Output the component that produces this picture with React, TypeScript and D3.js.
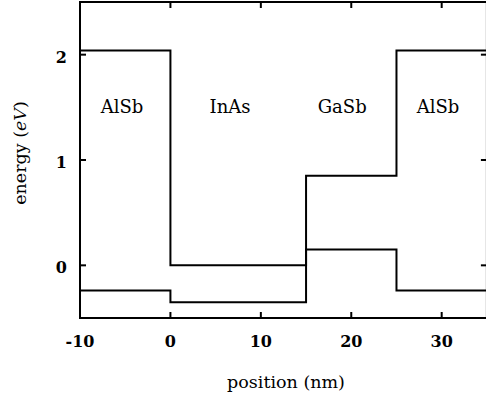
import React from 'react'
import * as d3 from 'd3'

// layer boundaries (nm) and band edges (eV)
const edges = [-10, 0, 15, 25, 35]
const conduction = [2.04, 0, 0.85, 2.04]
const valence = [-0.24, -0.35, 0.15, -0.24]

// region labels
const materials = ['AlSb', 'InAs', 'GaSb', 'AlSb']
const labelX = [-5.35, 6.6, 19.0, 29.6]
const labelY = 1.45

const xTicks = [-10, 0, 10, 20, 30]
const yTicks = [0, 1, 2]

const width = 486
const height = 403
const font = '"DejaVu Serif", serif'

export default function App() {
  var xScale = d3.scaleLinear().domain([-10, 35]).range([80, 486.9])
  var yScale = d3.scaleLinear().domain([-0.5, 2.5]).range([318, 2])

  // build step points from layers
  function steps(values: number[]) {
    var pts: [number, number][] = values.map((v, i) => [edges[i], v])
    pts.push([edges[edges.length - 1], values[values.length - 1]])
    return pts
  }

  var line = d3.line<[number, number]>()
    .x(d => xScale(d[0]))
    .y(d => yScale(d[1]))
    .curve(d3.curveStepAfter)

  var x0 = xScale.range()[0]
  var x1 = xScale.range()[1]
  var y0 = yScale.range()[0]
  var y1 = yScale.range()[1]
  var tick = 6

  return (
    <svg width={width} height={height} style={{ position: 'absolute', left: 0, top: 0, background: '#fff' }}>
      {/* frame */}
      <rect x={x0} y={y1} width={x1 - x0} height={y0 - y1} fill="none" stroke="#000" strokeWidth={2} />

      {/* x ticks, bottom and top */}
      {xTicks.map(t => (
        <g key={'x' + t}>
          <line x1={xScale(t)} x2={xScale(t)} y1={y0} y2={y0 - tick} stroke="#000" strokeWidth={2} />
          <line x1={xScale(t)} x2={xScale(t)} y1={y1} y2={y1 + tick} stroke="#000" strokeWidth={2} />
          <text x={xScale(t)} y={347} textAnchor="middle" fontFamily={font} fontSize={16} fontWeight="bold">{t}</text>
        </g>
      ))}

      {/* y ticks, left and right */}
      {yTicks.map(t => (
        <g key={'y' + t}>
          <line x1={x0} x2={x0 + tick} y1={yScale(t)} y2={yScale(t)} stroke="#000" strokeWidth={2} />
          <line x1={x1} x2={x1 - tick} y1={yScale(t)} y2={yScale(t)} stroke="#000" strokeWidth={2} />
          <text x={67} y={yScale(t) + 8} textAnchor="end" fontFamily={font} fontSize={16} fontWeight="bold">{t}</text>
        </g>
      ))}

      {/* band edges */}
      <path d={line(steps(conduction)) || ''} fill="none" stroke="#000" strokeWidth={2} />
      <path d={line(steps(valence)) || ''} fill="none" stroke="#000" strokeWidth={2} />

      {/* material names */}
      {materials.map((m, i) => (
        <text key={'m' + i} x={xScale(labelX[i])} y={yScale(labelY)} textAnchor="middle" fontFamily={font} fontSize={18}>{m}</text>
      ))}

      {/* axis titles */}
      <text x={286} y={388} textAnchor="middle" fontFamily={font} fontSize={17.5}>position (nm)</text>
      <text transform="translate(26,153) rotate(-90)" textAnchor="middle" fontFamily={font} fontSize={17.5}>
        energy (<tspan fontStyle="italic">eV</tspan>)
      </text>
    </svg>
  )
}
